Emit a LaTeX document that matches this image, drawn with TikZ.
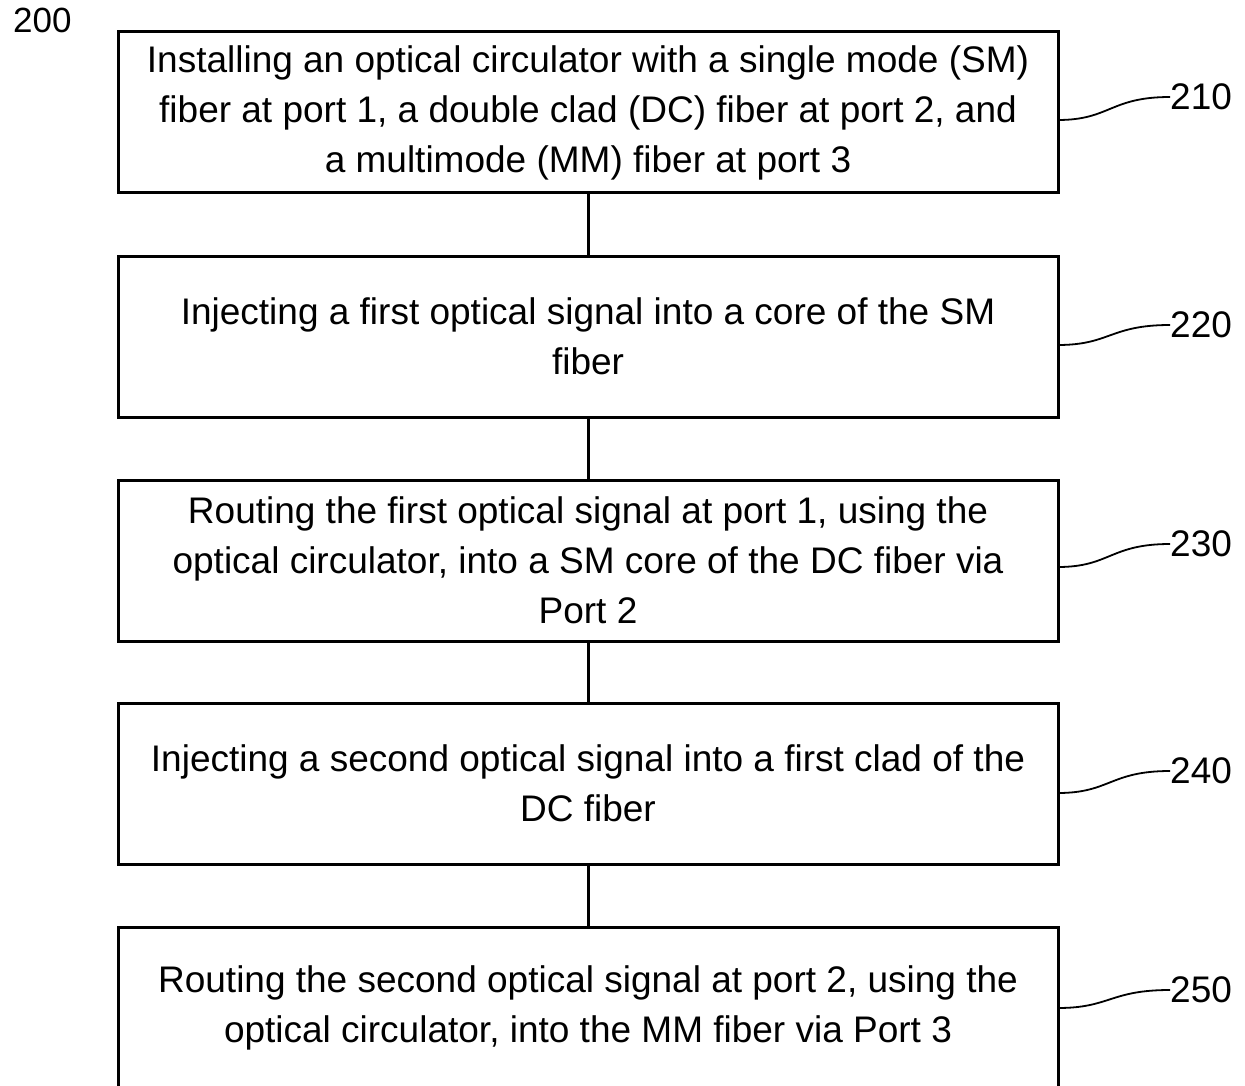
\documentclass[tikz,border=0pt]{standalone}
\usepackage{fontspec}
\setmainfont{Liberation Sans}
\begin{document}
\begin{tikzpicture}[x=1pt,y=-1pt,
  stepbox/.style={draw=black,line width=3pt,minimum width=940pt,minimum height=161pt,inner sep=0pt,
    align=center,font=\fontsize{37}{50}\selectfont},
  conn/.style={line width=3pt},
  leader/.style={line width=1.8pt},
  lab/.style={font=\fontsize{37}{40}\selectfont,anchor=west,inner sep=0pt}]
\useasboundingbox (0,0) rectangle (1245,1086);
\begin{scope}
\clip (0,0) rectangle (1245,1086);
\node[stepbox] (b1) at (588,112.5) {Installing an optical circulator with a single mode (SM)\\fiber at port 1, a double clad (DC) fiber at port 2, and\\a multimode (MM) fiber at port 3};
\node[stepbox] (b2) at (588,336.5) {Injecting a first optical signal into a core of the SM\\fiber};
\node[stepbox] (b3) at (588,560.5) {Routing the first optical signal at port 1, using the\\optical circulator, into a SM core of the DC fiber via\\Port 2};
\node[stepbox] (b4) at (588,783.5) {Injecting a second optical signal into a first clad of the\\DC fiber};
\node[stepbox] (b5) at (588,1007.5) {Routing the second optical signal at port 2, using the\\optical circulator, into the MM fiber via Port 3};
\end{scope}
\draw[conn] (b1.south) -- (b2.north);
\draw[conn] (b2.south) -- (b3.north);
\draw[conn] (b3.south) -- (b4.north);
\draw[conn] (b4.south) -- (b5.north);
\node[font=\fontsize{35}{38}\selectfont,anchor=west,inner sep=0pt] (n200) at (13,20) {200};
\foreach \b/\t/\ys/\yl in {b1/210/120/97, b2/220/345/325, b3/230/567/544, b4/240/793/771, b5/250/1008/990}{
  \node[lab] (l\t) at (1170,\yl) {\t};
  \coordinate (s\t) at (1058,\ys);
  \draw[leader] (s\t) .. controls (1110,\ys) and (1110,\yl) .. (l\t.west);
}
\end{tikzpicture}
\end{document}
